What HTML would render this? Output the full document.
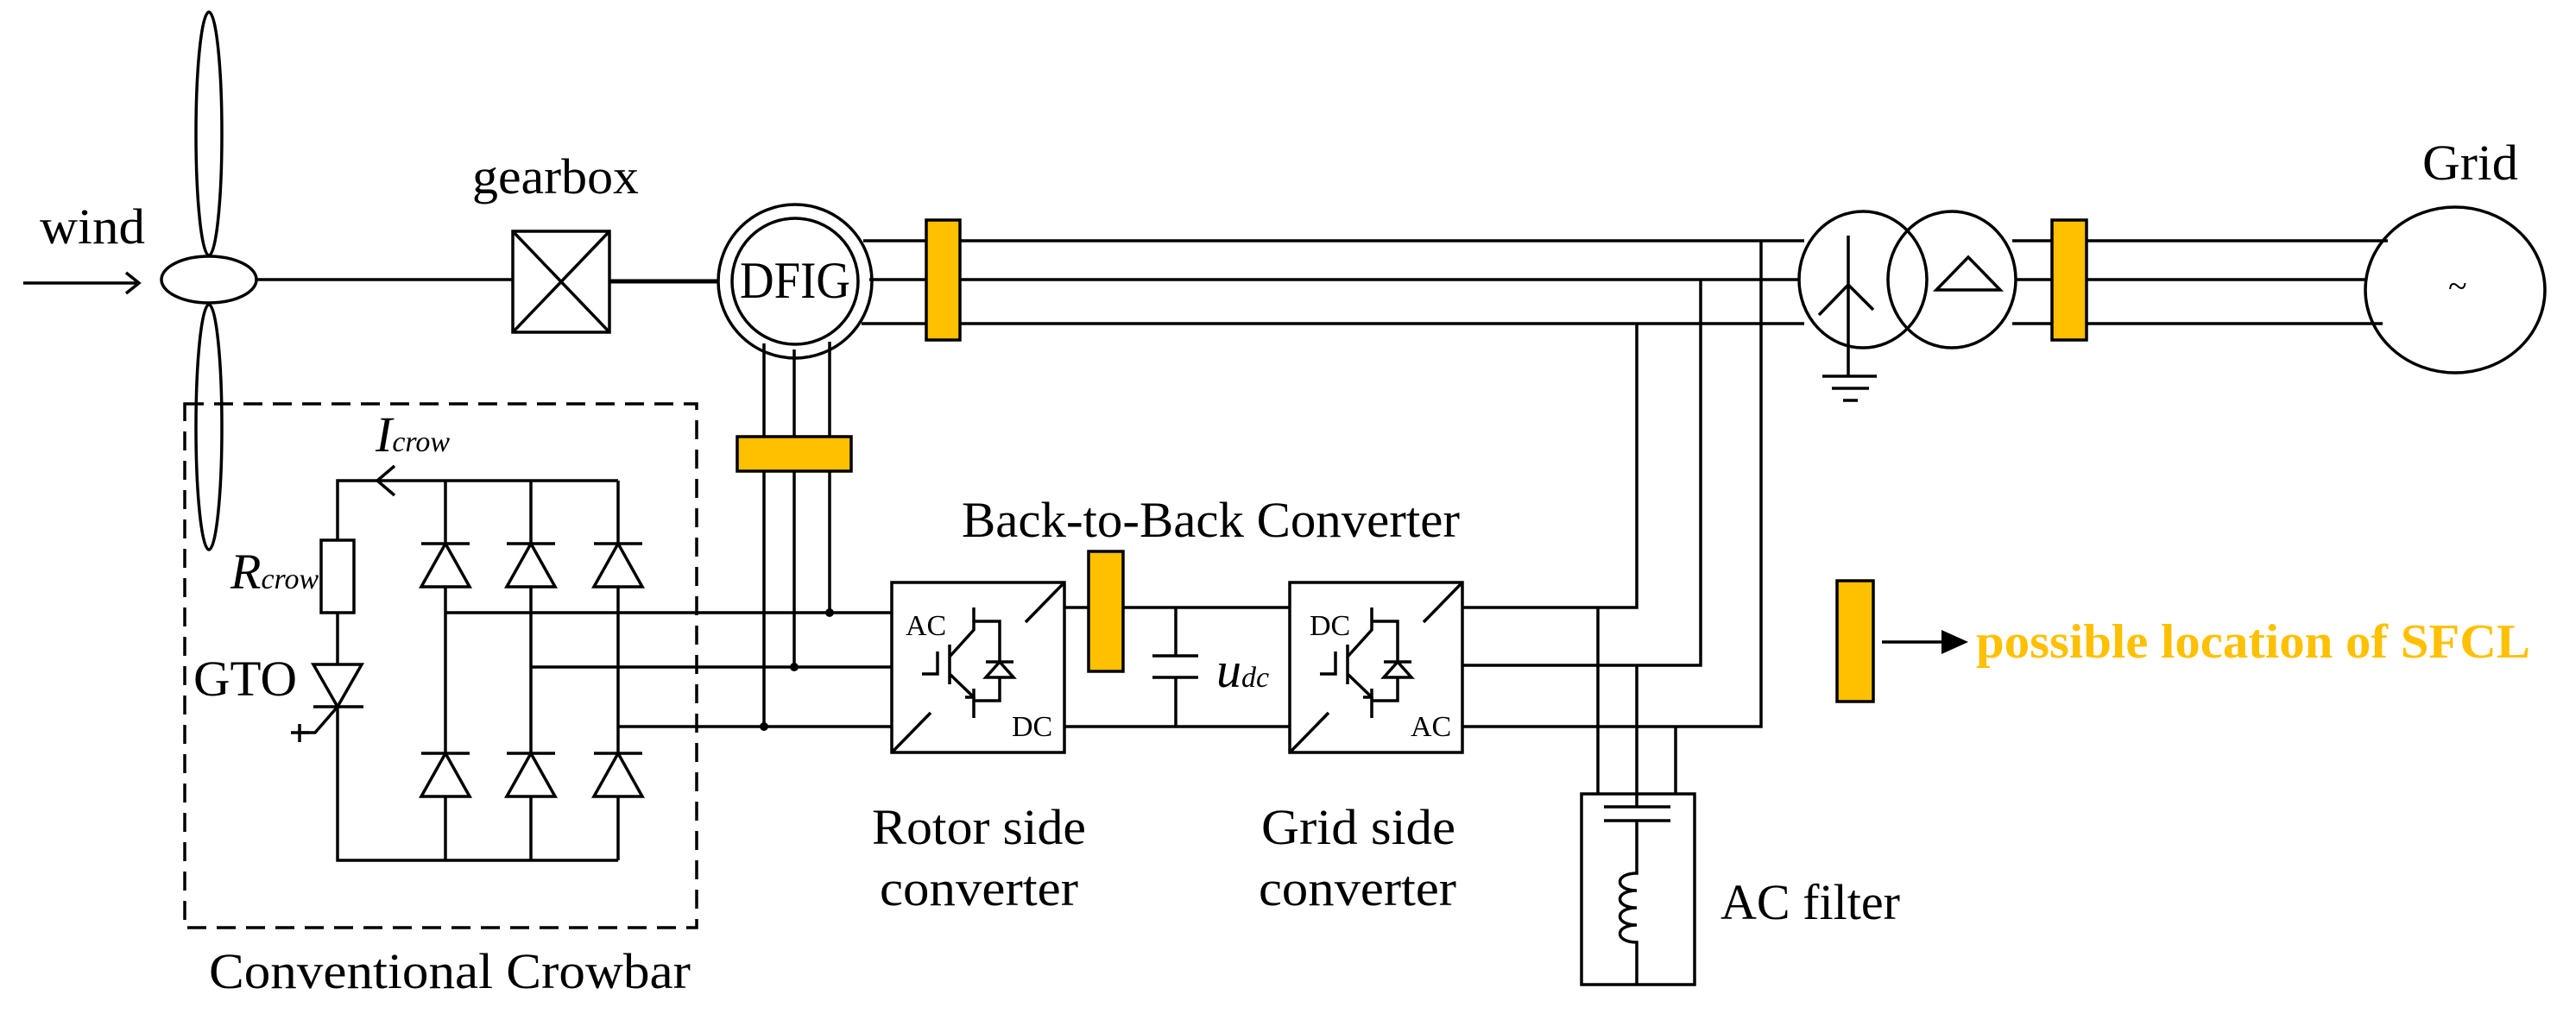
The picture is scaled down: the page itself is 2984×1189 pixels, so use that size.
<!DOCTYPE html>
<html><head><meta charset="utf-8"><style>html,body{margin:0;padding:0;background:#fff}svg{display:block}</style></head>
<body>
<svg width="2984" height="1189" viewBox="0 0 2984 1189" xmlns="http://www.w3.org/2000/svg" font-family="'Liberation Serif',serif">
<g fill="none" stroke="#000" stroke-width="3.5">
<!-- wind arrow -->
<line x1="27" y1="328" x2="160" y2="328"/>
<polyline points="146,316 161,328 146,340"/>
<!-- blades -->
<ellipse cx="242" cy="155" rx="15" ry="141"/>
<ellipse cx="242" cy="495" rx="15" ry="142"/>
<ellipse cx="242" cy="324" rx="55" ry="27" fill="#fff"/>
<line x1="297" y1="324" x2="594" y2="324"/>
<!-- gearbox -->
<rect x="594" y="268" width="112" height="117"/>
<line x1="594" y1="268" x2="706" y2="385"/><line x1="706" y1="268" x2="594" y2="385"/>
<line x1="706" y1="326" x2="832" y2="326" stroke-width="5"/>
<!-- DFIG -->
<circle cx="921" cy="326" r="89"/>
<circle cx="921" cy="326" r="73"/>
<!-- stator lines -->
<line x1="1000" y1="279" x2="2090" y2="279"/>
<line x1="1007" y1="324" x2="2084" y2="324"/>
<line x1="998" y1="375" x2="2090" y2="375"/>
<!-- rotor lines -->
<line x1="885" y1="398" x2="885" y2="842"/>
<line x1="920" y1="405" x2="920" y2="773"/>
<line x1="961" y1="396" x2="961" y2="710"/>
<!-- rotor horizontals -->
<line x1="516" y1="710" x2="1033" y2="710"/>
<line x1="615" y1="773" x2="1033" y2="773"/>
<line x1="716" y1="842" x2="1033" y2="842"/>
<!-- crowbar dashed box -->
<rect x="214" y="468" width="593" height="607" stroke-dasharray="22,12"/>
<!-- crowbar circuit -->
<polyline points="716,557 391,557 391,997 716,997"/>
<polyline points="457,540 437,557 457,574"/>
<rect x="372" y="626" width="38" height="84" fill="#fff"/>
<polygon points="363,770 419,770 391,819" fill="#fff"/>
<line x1="363" y1="819" x2="421" y2="819"/>
<polyline points="391,819 365,849 347,849"/>
<line x1="337" y1="849" x2="358" y2="849"/><line x1="347" y1="839" x2="347" y2="860"/>
<line x1="516" y1="557" x2="516" y2="997"/>
<line x1="615" y1="557" x2="615" y2="997"/>
<line x1="716" y1="557" x2="716" y2="997"/>
<g fill="#fff">
<polygon points="488,680 544,680 516,630"/><polygon points="587,680 643,680 615,630"/><polygon points="688,680 744,680 716,630"/>
<polygon points="488,923 544,923 516,873"/><polygon points="587,923 643,923 615,873"/><polygon points="688,923 744,923 716,873"/>
</g>
<line x1="488" y1="630" x2="544" y2="630"/><line x1="587" y1="630" x2="643" y2="630"/><line x1="688" y1="630" x2="744" y2="630"/>
<line x1="488" y1="873" x2="544" y2="873"/><line x1="587" y1="873" x2="643" y2="873"/><line x1="688" y1="873" x2="744" y2="873"/>
<!-- converters -->
<g id="conv">
<rect x="1033" y="675" width="200" height="197"/>
<line x1="1188" y1="721" x2="1231" y2="677"/>
<line x1="1035" y1="870" x2="1078" y2="826"/>
<polyline points="1068,781 1086,781 1086,755"/>
<line x1="1100" y1="747" x2="1100" y2="793"/>
<polyline points="1100,761 1128,730 1128,704"/>
<polyline points="1100,781 1128,808 1128,832"/>
<polyline points="1118,808 1128,808 1128,798"/>
<polyline points="1128,720 1158,720 1158,812 1128,812"/>
<polygon points="1142,785 1174,785 1158,767" fill="#fff"/>
<line x1="1142" y1="767" x2="1174" y2="767"/>
</g>
<g transform="translate(461,0)">
<rect x="1033" y="675" width="200" height="197"/>
<line x1="1188" y1="721" x2="1231" y2="677"/>
<line x1="1035" y1="870" x2="1078" y2="826"/>
<polyline points="1068,781 1086,781 1086,755"/>
<line x1="1100" y1="747" x2="1100" y2="793"/>
<polyline points="1100,761 1128,730 1128,704"/>
<polyline points="1100,781 1128,808 1128,832"/>
<polyline points="1118,808 1128,808 1128,798"/>
<polyline points="1128,720 1158,720 1158,812 1128,812"/>
<polygon points="1142,785 1174,785 1158,767" fill="#fff"/>
<line x1="1142" y1="767" x2="1174" y2="767"/>
</g>
<!-- DC link -->
<line x1="1233" y1="704" x2="1494" y2="704"/>
<line x1="1233" y1="842" x2="1494" y2="842"/>
<line x1="1362" y1="704" x2="1362" y2="760"/><line x1="1362" y1="785" x2="1362" y2="842"/>
<line x1="1335" y1="760" x2="1388" y2="760"/><line x1="1335" y1="785" x2="1388" y2="785"/>
<!-- GSC outputs -->
<polyline points="1694,704 1896,704 1896,375"/>
<polyline points="1694,771 1970,771 1970,324"/>
<polyline points="1694,842 2040,842 2040,279"/>
<!-- filter -->
<line x1="1851" y1="704" x2="1851" y2="920"/>
<line x1="1896" y1="771" x2="1896" y2="935"/>
<line x1="1941" y1="842" x2="1941" y2="920"/>
<rect x="1832" y="920" width="131" height="221"/>
<line x1="1858" y1="935" x2="1935" y2="935"/><line x1="1858" y1="951" x2="1935" y2="951"/>
<path d="M1896,951 L1896,1012 C1870,1012 1870,1032 1896,1032 C1870,1032 1870,1052 1896,1052 C1870,1052 1870,1072 1896,1072 C1870,1072 1870,1092 1896,1092 L1896,1141"/>
<!-- transformer -->
<ellipse cx="2158" cy="324" rx="74" ry="79"/>
<ellipse cx="2261" cy="324" rx="74" ry="79"/>
<line x1="2141" y1="273" x2="2141" y2="436"/>
<polyline points="2107,365 2141,330 2170,359"/>
<line x1="2111" y1="436" x2="2174" y2="436"/>
<line x1="2122" y1="450" x2="2165" y2="450"/>
<line x1="2135" y1="464" x2="2152" y2="464"/>
<polygon points="2243,336 2317,336 2280,298"/>
<!-- grid lines -->
<line x1="2331" y1="279" x2="2766" y2="279"/>
<line x1="2335" y1="324" x2="2740" y2="324"/>
<line x1="2331" y1="375" x2="2760" y2="375"/>
<ellipse cx="2844" cy="336" rx="104" ry="96"/>
<!-- legend arrow -->
<line x1="2180" y1="744" x2="2252" y2="744"/>
</g>
<polygon points="2249,730 2280,744 2249,758" fill="#000"/>
<g fill="#000">
<circle cx="961" cy="710" r="5"/><circle cx="920" cy="773" r="5"/><circle cx="885" cy="842" r="5"/>
</g>
<!-- SFCLs -->
<g fill="#FFC000" stroke="#000" stroke-width="3.5">
<rect x="1073" y="255" width="39" height="139"/>
<rect x="854" y="506" width="132" height="40"/>
<rect x="1261" y="639" width="40" height="139"/>
<rect x="2377" y="255" width="40" height="139"/>
<rect x="2128" y="673" width="42" height="140"/>
</g>
<!-- text -->
<g fill="#000" font-size="58">
<text x="46" y="282" textLength="122" lengthAdjust="spacingAndGlyphs">wind</text>
<text x="547" y="224" textLength="193" lengthAdjust="spacingAndGlyphs">gearbox</text>
<text x="857" y="345" font-size="60" textLength="128" lengthAdjust="spacingAndGlyphs">DFIG</text>
<text x="242" y="1145" textLength="558" lengthAdjust="spacingAndGlyphs">Conventional Crowbar</text>
<text x="224" y="806" textLength="120" lengthAdjust="spacingAndGlyphs">GTO</text>
<text x="435" y="523" font-style="italic">I<tspan font-size="34">crow</tspan></text>
<text x="267" y="682" font-style="italic">R<tspan font-size="34">crow</tspan></text>
<text x="1114" y="622" textLength="577" lengthAdjust="spacingAndGlyphs">Back-to-Back Converter</text>
<text x="1409" y="796" font-style="italic">u<tspan font-size="34">dc</tspan></text>
<text x="1010" y="978" textLength="248" lengthAdjust="spacingAndGlyphs">Rotor side</text>
<text x="1019" y="1049" textLength="230" lengthAdjust="spacingAndGlyphs">converter</text>
<text x="1461" y="978" textLength="225" lengthAdjust="spacingAndGlyphs">Grid side</text>
<text x="1458" y="1049" textLength="229" lengthAdjust="spacingAndGlyphs">converter</text>
<text x="1993" y="1065" textLength="208" lengthAdjust="spacingAndGlyphs">AC filter</text>
<text x="2806" y="208" textLength="111" lengthAdjust="spacingAndGlyphs">Grid</text>
<text x="2836" y="345" font-size="40">~</text>
<g font-size="34">
<text x="1049" y="736">AC</text><text x="1172" y="853">DC</text>
<text x="1517" y="736">DC</text><text x="1634" y="853">AC</text>
</g>
<text x="2289" y="762" fill="#FFC000" font-weight="bold" font-size="56" textLength="642" lengthAdjust="spacingAndGlyphs">possible location of SFCL</text>
</g>
</svg>
</body></html>
